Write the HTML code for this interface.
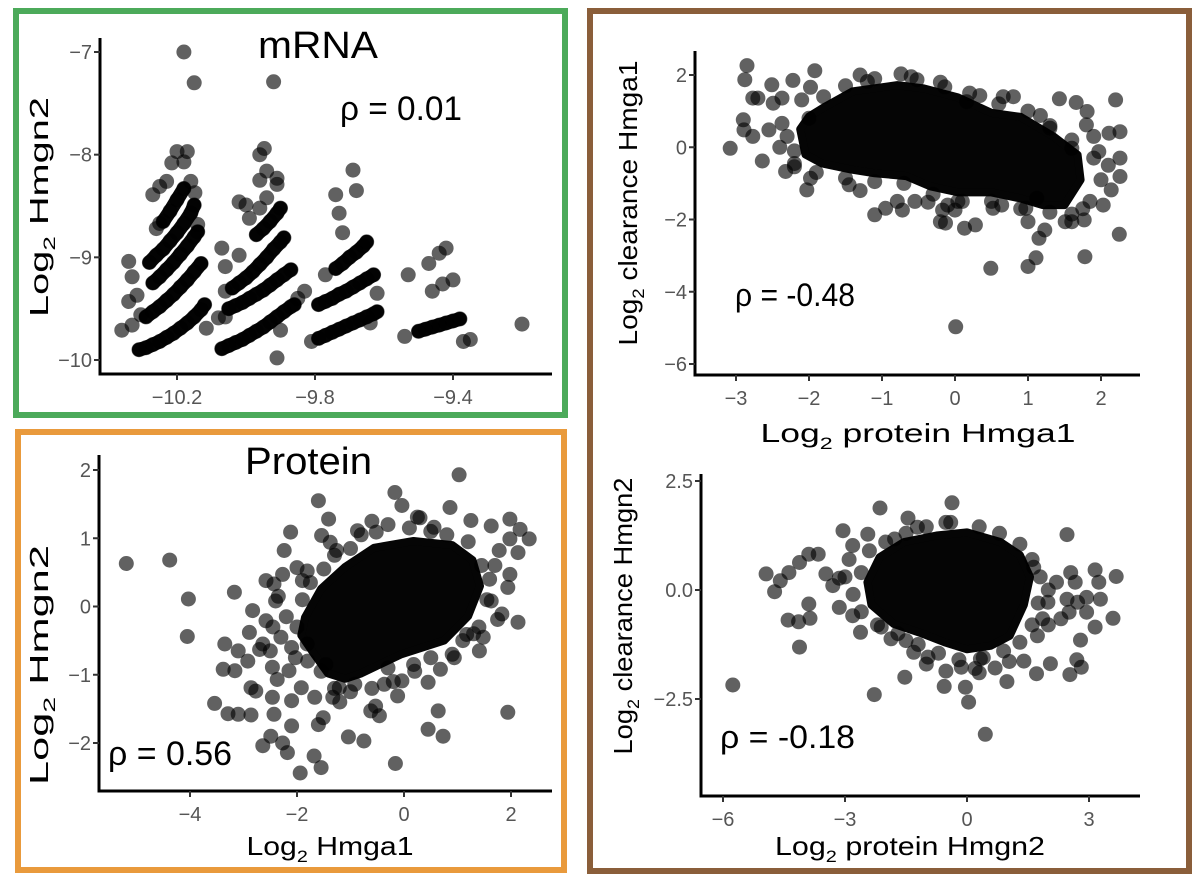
<!DOCTYPE html>
<html><head><meta charset="utf-8">
<style>
html,body{margin:0;padding:0;background:#fff;}
svg{display:block;font-family:"Liberation Sans",sans-serif;}
.tick{fill:#555;font-size:20px;font-family:"Liberation Sans Narrow","Liberation Sans",sans-serif;}
.ttl{fill:#000;font-size:26px;}
</style></head>
<body>
<svg id="fig" width="1200" height="884" viewBox="0 0 1200 884" xmlns="http://www.w3.org/2000/svg">
<rect x="0" y="0" width="1200" height="884" fill="#fff"/>
<rect x="16" y="11" width="549" height="404" fill="none" stroke="#4caa5a" stroke-width="6"/>
<rect x="18" y="432" width="546" height="438" fill="none" stroke="#e99a3c" stroke-width="6"/>
<rect x="590" y="11" width="599" height="860" fill="none" stroke="#8a5e3a" stroke-width="6"/>
<g id="layer"></g>
</svg>
<script>
// ---------- mRNA panel data ----------
// dense bands (each is a run of overlapping points)
const mrnaBandsX = [
 [-10.31,-10.29,-10.27,-10.25,-10.23,-10.21,-10.19,-10.17,-10.15,-10.13,-10.12],
 [-10.29,-10.27,-10.25,-10.23,-10.21,-10.19,-10.17,-10.15,-10.13],
 [-10.27,-10.25,-10.23,-10.21,-10.19,-10.17,-10.15,-10.14],
 [-10.28,-10.26,-10.24,-10.22,-10.20,-10.18,-10.16,-10.15],
 [-10.24,-10.22,-10.20,-10.18],
 [-10.07,-10.05,-10.03,-10.01,-9.99,-9.97,-9.95,-9.93,-9.91,-9.89,-9.87,-9.86],
 [-10.05,-10.03,-10.01,-9.99,-9.97,-9.95,-9.93,-9.91,-9.89,-9.87],
 [-10.04,-10.02,-10.00,-9.98,-9.96,-9.94,-9.92,-9.90,-9.89],
 [-9.97,-9.95,-9.93,-9.91,-9.90],
 [-9.79,-9.77,-9.75,-9.73,-9.71,-9.69,-9.67,-9.65,-9.63,-9.62],
 [-9.79,-9.77,-9.75,-9.73,-9.71,-9.69,-9.67,-9.65,-9.63],
 [-9.74,-9.72,-9.70,-9.68,-9.66,-9.65],
 [-9.50,-9.48,-9.46,-9.44,-9.42,-9.40,-9.38]];
const mrnaBandsY = [
 [-9.90,-9.88,-9.85,-9.82,-9.78,-9.74,-9.69,-9.64,-9.58,-9.51,-9.46],
 [-9.58,-9.53,-9.48,-9.42,-9.36,-9.29,-9.22,-9.14,-9.06],
 [-9.25,-9.19,-9.12,-9.05,-8.97,-8.89,-8.80,-8.75],
 [-9.05,-8.98,-8.92,-8.84,-8.76,-8.67,-8.57,-8.49],
 [-8.65,-8.55,-8.44,-8.33],
 [-9.89,-9.86,-9.83,-9.80,-9.76,-9.72,-9.68,-9.63,-9.58,-9.53,-9.48,-9.46],
 [-9.50,-9.47,-9.44,-9.40,-9.36,-9.32,-9.27,-9.22,-9.17,-9.12],
 [-9.30,-9.25,-9.20,-9.14,-9.07,-9.00,-8.92,-8.85,-8.81],
 [-8.78,-8.72,-8.65,-8.57,-8.52],
 [-9.79,-9.76,-9.73,-9.70,-9.67,-9.64,-9.61,-9.58,-9.55,-9.53],
 [-9.46,-9.43,-9.40,-9.36,-9.33,-9.29,-9.25,-9.21,-9.17],
 [-9.11,-9.06,-9.00,-8.95,-8.89,-8.85],
 [-9.72,-9.70,-9.68,-9.66,-9.64,-9.62,-9.60]];
// scattered points
const mrnaX = [-10.18,-10.15,-10.2,-10.17,-10.215,-10.18,-10.25,-10.27,-10.148,-10.16,-10.23,-10.14,-10.25,-10.26,-10.34,-10.33,-10.34,-10.316,-10.36,-10.33,-10.305,-10.115,
 -9.96,-9.947,-9.94,-9.96,-9.91,-9.91,-9.94,-9.96,-9.92,
 -10.02,-10.0,-9.99,-10.07,-10.02,-10.06,-10.06,-10.06,-10.08,-9.91,-9.9,-9.85,-9.83,
 -9.74,-9.73,-9.72,-9.69,-9.68,-9.77,-9.62,-9.81,-9.64,
 -9.53,-9.47,-9.44,-9.42,-9.46,-9.43,-9.40,-9.54,-9.37,-9.35,-9.20];
const mrnaY = [-7.0,-7.3,-7.97,-7.97,-8.08,-8.07,-8.31,-8.39,-8.37,-8.26,-8.26,-8.68,-8.67,-8.72,-9.04,-9.19,-9.43,-9.37,-9.71,-9.66,-9.56,-9.69,
 -8.0,-7.94,-8.16,-8.25,-8.23,-8.29,-8.42,-8.52,-7.29,
 -8.46,-8.49,-8.62,-8.91,-8.98,-9.09,-9.33,-9.58,-9.59,-9.98,-9.71,-9.40,-9.33,
 -8.39,-8.57,-8.76,-8.15,-8.35,-9.17,-9.35,-9.82,-9.64,
 -9.17,-9.06,-8.96,-8.91,-9.33,-9.26,-9.22,-9.77,-9.82,-9.80,-9.65];
const mrnaXTicks = [-10.2,-9.8,-9.4];
const mrnaXTickLabels = ["\u221210.2","\u22129.8","\u22129.4"];
const mrnaYTicks = [-7,-8,-9,-10];
const mrnaYTickLabels = ["\u22127","\u22128","\u22129","\u221210"];

// ---------- Protein panel data ----------
const protCoreX = [-1.85,-1.55,-1.1,-0.56,0.18,0.9,1.28,1.42,1.2,0.75,-0.05,-0.8,-1.1,-1.42,-1.66,-1.92];
const protCoreY = [-0.16,0.26,0.58,0.86,0.96,0.9,0.68,0.3,-0.14,-0.5,-0.7,-0.98,-1.06,-0.98,-0.72,-0.42];
const protX = [-5.19,-4.38,-4.03,-4.05,-3.17,-3.54,-3.29,-3.10,-2.86,-3.38,-3.16,-3.35,-3.1,-2.92,-2.83,-2.89,-2.70,-2.86,-2.77,-2.64,-2.64,-2.49,-2.27,-2.18,-2.58,-2.58,-2.43,-2.4,-2.27,-2.24,-2.12,-2.0,-1.81,-1.9,-1.6,-1.41,-1.54,-1.38,-1.26,-0.87,-0.52,-0.17,-0.04,0.86,1.03,1.25,1.63,1.98,2.17,2.34,1.98,1.78,2.13,1.98,1.94,1.63,1.83,1.75,2.13,1.48,1.41,0.94,0.68,0.45,-0.12,-0.53,-0.46,-0.62,0.64,0.45,0.73,-0.16,1.94,-1.04,-0.75,-1.68,-1.55,-1.94,-1.6,-1.51,-1.67,-1.92,-2.1,-2.1,-2.43,-2.46,-2.37,-2.46,-2.15,-2.03,-1.81,-1.46,-1.33,-1.21,-0.92,-0.37,0.18,-0.04,1.17,0.56,0.25,
 -2.0,-1.9,-1.75,-1.5,-1.3,-1.0,-0.8,-0.3,0.1,0.5,0.8,1.2,1.45,1.6,1.55,1.4,1.1,0.9,0.5,0.2,-0.3,-0.6,-1.0,-1.3,-1.55,-1.8,-2.1,-2.2,-2.3,-1.2,-0.2,1.3,1.7,0.3,-0.6,-2.45,-2.5,-2.35];
const protY = [0.63,0.68,0.11,-0.44,0.21,-1.42,-1.57,-1.58,-1.59,-0.92,-0.94,-0.55,-0.65,-0.80,-0.06,-0.38,-0.63,-1.19,-1.24,-0.55,-2.04,-1.90,-2.0,-2.14,-0.21,0.38,0.33,0.08,0.47,0.82,1.09,0.57,0.52,0.38,1.55,1.28,1.04,0.94,0.82,1.11,1.09,1.67,1.48,1.45,1.93,1.26,1.18,1.28,1.13,0.99,0.99,0.82,0.79,0.47,0.28,0.08,-0.11,-0.19,-0.23,-0.45,-0.65,-0.75,-0.92,-1.11,-1.31,-1.46,-1.6,-1.53,-1.53,-1.8,-1.9,-2.30,-1.55,-1.91,-1.97,-2.19,-2.36,-2.44,-1.73,-1.63,-1.33,-1.19,-1.38,-1.75,-1.58,-1.33,-1.07,-0.89,-0.94,-0.75,-0.55,-0.85,-1.33,-1.19,-1.14,-1.14,-0.85,-1.09,-0.41,1.16,1.31,
 -0.3,0.1,0.35,0.55,0.75,0.85,1.05,1.2,1.15,1.1,1.05,0.95,0.6,0.4,0.1,-0.3,-0.5,-0.7,-0.75,-0.95,-0.9,-1.2,-1.25,-1.2,-0.95,-0.8,-0.6,-0.15,-0.45,-1.4,-1.1,-0.4,0.6,1.3,1.25,-0.3,-0.65,0.15];
const protXTicks = [-4,-2,0,2];
const protXTickLabels = ["\u22124","\u22122","0","2"];
const protYTicks = [2,1,0,-1,-2];
const protYTickLabels = ["2","1","0","\u22121","\u22122"];

// ---------- Hmga1 clearance panel data ----------
const ga1CoreX = [-1.8,-1.4,-0.79,-0.43,0.04,0.5,0.9,1.35,1.68,1.72,1.5,1.2,0.9,0.5,0.04,-0.34,-0.67,-1.10,-1.42,-1.82,-2.05,-2.12,-2.0];
const ga1CoreY = [1.1,1.55,1.72,1.63,1.38,0.95,0.84,0.3,-0.21,-0.9,-1.6,-1.6,-1.42,-1.25,-1.25,-1.08,-0.8,-0.72,-0.62,-0.45,-0.2,0.5,0.85];
const ga1X = [-3.08,-2.9,-2.89,-2.85,-2.88,-2.77,-2.7,-2.77,-2.64,-2.55,-2.51,-2.49,-2.37,-2.32,-2.37,-2.22,-2.2,-2.1,-2.03,-1.98,-1.92,-1.98,-1.45,-1.1,-0.95,-0.72,-0.55,-0.37,-0.2,-0.13,-0.17,0.0,0.04,0.13,0.28,0.49,1.0,1.11,1.15,1.23,1.0,0.97,1.51,1.6,1.78,2.25,1.77,0.01,1.43,1.66,1.81,2.2,2.26,2.26,2.26,2.14,2.03,1.97,2.11,1.8,1.17,0.66,0.34,-0.14,-0.74,-0.52,-1.2,0.16,1.12,0.64,0.52,1.3,1.6,-0.79,
 -2.3,-2.2,-2.0,-1.8,-1.5,-1.1,-0.6,-0.2,0.2,0.6,1.0,1.3,1.6,1.9,2.0,1.85,1.6,1.3,0.9,0.5,0.1,-0.3,-0.7,-1.1,-1.5,-1.9,-2.2,-2.4,-1.3,-0.1,1.75,2.1,1.9,0.8,-1.3];
const ga1Y = [-0.03,0.76,0.48,2.26,1.87,1.36,1.36,0.3,-0.38,0.48,1.73,1.22,1.36,-0.67,0.66,1.85,-0.54,1.31,-1.18,1.66,2.12,-0.86,-1.04,-1.87,-1.69,-1.74,-1.5,-1.52,-2.06,-2.1,-1.74,-1.74,-1.5,-2.24,-2.15,-3.35,-3.3,-3.06,-2.52,-2.29,-2.06,-1.69,-2.06,-2.06,-3.03,-2.41,-2.01,-4.97,1.34,1.24,0.99,1.31,0.43,-0.3,-0.81,-1.18,-1.6,-0.12,0.39,0.62,0.88,1.4,1.43,1.67,2.03,1.87,1.82,1.26,-1.41,-1.6,-1.69,0.53,-0.03,-1.5,
 0.3,-0.1,0.8,1.4,1.7,1.9,1.95,1.8,1.5,1.2,1.0,0.6,0.2,-0.3,-0.9,-1.5,-1.85,-1.8,-1.7,-1.5,-1.5,-1.3,-1.0,-0.95,-0.85,-0.7,-0.45,0.0,-1.2,-1.6,-1.7,-0.5,0.3,1.4,2.0];
const ga1XTicks = [-3,-2,-1,0,1,2];
const ga1XTickLabels = ["\u22123","\u22122","\u22121","0","1","2"];
const ga1YTicks = [2,0,-2,-4,-6];
const ga1YTickLabels = ["2","0","\u22122","\u22124","\u22126"];

// ---------- Hmgn2 clearance panel data ----------
const gn2CoreX = [-2.15,-1.55,-0.75,0,0.82,1.3,1.55,1.4,1.05,0.58,0,-0.55,-1.1,-1.8,-2.35,-2.45];
const gn2CoreY = [0.75,1.1,1.25,1.32,1.1,0.8,0.3,-0.34,-1.05,-1.28,-1.36,-1.2,-1.0,-0.78,-0.34,0.18];
const gn2X = [-5.76,-4.94,-4.73,-4.59,-4.38,-4.12,-3.89,-3.66,-4.4,-4.14,-3.86,-3.89,-4.12,-3.47,-3.14,-3.14,-3.05,-2.81,-2.44,-2.14,-1.45,-1.22,-1.78,-2.81,-2.62,-2.11,-1.87,-1.5,-1.31,-0.96,-1.53,-2.28,-0.52,-0.56,-0.14,-0.04,0.04,0.33,0.3,0.69,0.98,0.45,1.04,1.4,1.71,2.05,1.73,1.86,1.99,2.2,2.31,2.46,2.55,2.66,2.72,2.51,2.94,3.15,3.24,3.28,2.94,3.15,2.79,2.7,2.53,2.81,3.59,3.67,-0.37,-0.52,1.64,2.46,
 -2.6,-2.4,-2.0,-1.5,-1.0,-0.4,0.3,0.8,1.3,1.6,1.8,1.75,1.6,1.3,0.9,0.4,-0.2,-0.7,-1.2,-1.7,-2.2,-2.6,-2.8,-3.0,-3.3,-2.9,2.0,2.0,-1.0,0.2];
const gn2Y = [-2.18,0.37,-0.04,0.21,0.4,0.63,0.82,0.82,-0.69,-0.73,-0.65,-0.32,-1.31,0.37,0.27,-0.4,1.36,1.02,1.28,1.88,1.65,1.44,1.17,-0.59,-0.97,-0.85,-1.12,-1.16,-1.43,-1.54,-2.0,-2.4,-1.86,-2.21,-1.77,-2.23,-2.57,-1.58,-1.9,-1.79,-2.1,-3.31,-1.64,-1.63,-1.92,-1.69,-1.05,-0.66,-0.28,0.18,-0.66,1.27,0.4,0.18,-0.28,-0.51,-0.17,0.46,0.18,-0.21,-0.51,-0.85,-1.15,-1.6,-1.94,-1.77,-0.65,0.31,2.0,1.55,0.52,-0.21,
 0.4,0.9,1.1,1.3,1.45,1.55,1.45,1.3,1.05,0.7,0.3,-0.3,-0.8,-1.2,-1.4,-1.55,-1.6,-1.45,-1.25,-1.0,-0.8,-0.5,-0.1,0.3,0.1,0.7,0.0,-0.8,-1.7,-1.8];
const gn2XTicks = [-6,-3,0,3];
const gn2XTickLabels = ["\u22126","\u22123","0","3"];
const gn2YTicks = [2.5,0,-2.5];
const gn2YTickLabels = ["2.5","0.0","\u22122.5"];

// ---------- rendering ----------
const NS = "http://www.w3.org/2000/svg";
const layer = document.getElementById("layer");
function mk(tag, attrs, parent){
  const e = document.createElementNS(NS, tag);
  for (const k in attrs) e.setAttribute(k, attrs[k]);
  (parent||layer).appendChild(e);
  return e;
}
function linear(d0,d1,r0,r1){ return v => r0 + (v-d0)*(r1-r0)/(d1-d0); }

function drawPanel(p){
  const g = mk("g", {});
  
  
  const sx = p.sx, sy = p.sy;
  if (p.coreX){
    const pts = p.coreX.map((v,i)=> sx(v).toFixed(1)+","+sy(p.coreY[i]).toFixed(1)).join(" ");
    const poly = mk("polygon", {points: pts, fill:"#050505", stroke:"#050505", "stroke-width":"8", "stroke-linejoin":"round"}, g);
    
    
  }
  if (p.bandsX){
    p.bandsX.forEach((bx,bi)=>{
      const by = p.bandsY[bi];
      const pts = bx.map((v,i)=> sx(v).toFixed(1)+","+sy(by[i]).toFixed(1)).join(" ");
      const pl = mk("polyline", {points: pts, fill:"none", stroke:"#080808", "stroke-width":"14", "stroke-linecap":"round", "stroke-linejoin":"round"}, g);
      
      
      bx.forEach((v,i)=>{
        const c = mk("circle", {cx: sx(v).toFixed(1), cy: sy(by[i]).toFixed(1), r: 7.5, fill:"#000", "fill-opacity":"0.62"}, g);
        
        
      });
    });
  }
  p.xs.forEach((v,i)=>{
    const c = mk("circle", {cx: sx(v).toFixed(1), cy: sy(p.ys[i]).toFixed(1), r: 7.5, fill:"#000", "fill-opacity":"0.62"}, g);
    
    
  });
  const ya = mk("line", {x1:p.ax, y1:p.ayTop, x2:p.ax, y2:p.ay, stroke:"#000", "stroke-width":"3"}, g);
  
  
  const xa = mk("line", {x1:p.ax-1.5, y1:p.ay, x2:p.axRight, y2:p.ay, stroke:"#000", "stroke-width":"3"}, g);
  
  
  p.xt.forEach((v,i)=>{
    const x = sx(v);
    const t = mk("line", {x1:x, y1:p.ay, x2:x, y2:p.ay+6, stroke:"#333", "stroke-width":"2"}, g);
    
    
    const l = mk("text", {x:x, y:p.ay+30, "text-anchor":"middle", class:"tick"}, g);
    l.textContent = p.xtl[i];
    
    
  });
  p.yt.forEach((v,i)=>{
    const y = sy(v);
    const t = mk("line", {x1:p.ax-6, y1:y, x2:p.ax, y2:y, stroke:"#333", "stroke-width":"2"}, g);
    
    
    const l = mk("text", {x:p.ax-8, y:y+7, "text-anchor":"end", class:"tick"}, g);
    l.textContent = p.ytl[i];
    
    
  });
}

function axisTitle(txt, x, y, rot, name, len){
  const t = mk("text", {x:x - len/2, y:y, class:"ttl", textLength:len, lengthAdjust:"spacingAndGlyphs", transform: rot ? `rotate(-90 ${x} ${y})` : ""});
  
  
  const a = mk("tspan", {}, t); a.textContent = "Log";
  const b = mk("tspan", {dy:"7", "font-size":"17"}, t); b.textContent = "2";
  const c = mk("tspan", {dy:"-7"}, t); c.textContent = " " + txt;
}
function label(txt, x, y, size, name, len){
  const t = mk("text", {x:x, y:y, "font-size":size, fill:"#000", textLength:len, lengthAdjust:"spacingAndGlyphs"});
  t.textContent = txt;
  
  
}

drawPanel({name:"mrna-scatter", sx: linear(-10.2,-9.4,177,453), sy: linear(-7,-10,52,360),
  bandsX:mrnaBandsX, bandsY:mrnaBandsY,
  xs:mrnaX, ys:mrnaY, ax:100, ay:374, ayTop:38, axRight:552,
  xt:mrnaXTicks, xtl:mrnaXTickLabels, yt:mrnaYTicks, ytl:mrnaYTickLabels});
drawPanel({name:"protein-scatter", sx: linear(-4,2,190,511), sy: linear(2,-2,470,743),
  coreX:protCoreX, coreY:protCoreY, xs:protX, ys:protY, ax:99, ay:791, ayTop:455, axRight:552,
  xt:protXTicks, xtl:protXTickLabels, yt:protYTicks, ytl:protYTickLabels});
drawPanel({name:"hmga1-clearance-scatter", sx: linear(-3,2,736,1101), sy: linear(2,-6,75,364),
  coreX:ga1CoreX, coreY:ga1CoreY, xs:ga1X, ys:ga1Y, ax:695, ay:375, ayTop:51, axRight:1140,
  xt:ga1XTicks, xtl:ga1XTickLabels, yt:ga1YTicks, ytl:ga1YTickLabels});
drawPanel({name:"hmgn2-clearance-scatter", sx: linear(-6,3,723,1089), sy: linear(2.5,-2.5,481,699),
  coreX:gn2CoreX, coreY:gn2CoreY, xs:gn2X, ys:gn2Y, ax:701, ay:796, ayTop:474, axRight:1140,
  xt:gn2XTicks, xtl:gn2XTickLabels, yt:gn2YTicks, ytl:gn2YTickLabels});

label("mRNA", 258, 58, 38, "mrna-title", 120);
label("Protein", 245, 474, 38, "protein-title", 127);
label("\u03c1 = 0.01", 340, 120, 34, "mrna-rho", 122);
label("\u03c1 = 0.56", 108, 765, 34, "protein-rho", 124);
label("\u03c1 = -0.48", 735, 306, 32, "hmga1-rho", 120);
label("\u03c1 = -0.18", 720, 748, 32, "hmgn2-rho", 135);

axisTitle("Hmgn2", 48, 207, true, "mrna-y-axis-title", 220);
axisTitle("Hmgn2", 48, 665, true, "protein-y-axis-title", 240);
axisTitle("Hmga1", 330, 855, false, "protein-x-axis-title", 167);
axisTitle("clearance Hmga1", 637, 203, true, "hmga1-y-axis-title", 285);
axisTitle("protein Hmga1", 918, 442, false, "hmga1-x-axis-title", 315);
axisTitle("clearance Hmgn2", 632, 616, true, "hmgn2-y-axis-title", 277);
axisTitle("protein Hmgn2", 910, 855, false, "hmgn2-x-axis-title", 270);
</script>
</body></html>
